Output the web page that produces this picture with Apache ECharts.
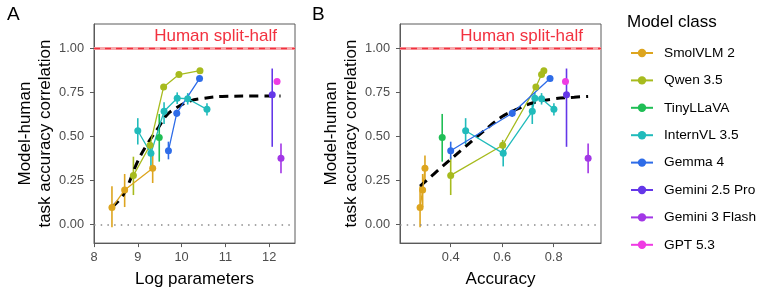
<!DOCTYPE html>
<html>
<head>
<meta charset="utf-8">
<script src="https://cdn.jsdelivr.net/npm/echarts@6/dist/echarts.min.js"></script>
<style>
html,body{margin:0;padding:0;background:#fff;}
#chart{width:762px;height:294px;}
</style>
</head>
<body>
<div id="chart"></div>
<script>
// ---------- data ----------
const classes = ['SmolVLM 2','Qwen 3.5','TinyLLaVA','InternVL 3.5','Gemma 4','Gemini 2.5 Pro','Gemini 3 Flash','GPT 5.3'];
const colors  = ['#DDA51F','#A7BB1E','#1FBE55','#21BBBB','#2E6CE8','#6437E8','#A237E6','#EF3BE3'];

// log parameters per model (panel A x)
const logParams = [
  [8.41, 8.70, 9.34],
  [8.90, 9.28, 9.59, 9.94, 10.42],
  [9.49],
  [9.00, 9.30, 9.60, 9.90, 10.14, 10.58],
  [9.70, 9.89, 10.41],
  [12.07],
  [12.27],
  [12.18]
];
// accuracy per model (panel B x)
const accuracy = [
  [0.281, 0.291, 0.300],
  [0.400, 0.602, 0.731, 0.753, 0.762],
  [0.367],
  [0.458, 0.604, 0.717, 0.727, 0.753, 0.801],
  [0.400, 0.639, 0.786],
  [0.850],
  [0.934],
  [0.846]
];
// model-human task accuracy correlation
const corr = [
  [0.097, 0.196, 0.320],
  [0.279, 0.450, 0.780, 0.850, 0.872],
  [0.493],
  [0.532, 0.404, 0.642, 0.716, 0.713, 0.653],
  [0.419, 0.631, 0.827],
  [0.735],
  [0.376],
  [0.810]
];
const corrLo = [
  [-0.015, 0.100, 0.236],
  [0.168, 0.420, 0.765, 0.838, 0.862],
  [0.357],
  [0.454, 0.330, 0.570, 0.683, 0.680, 0.618],
  [0.370, 0.610, 0.815],
  [0.441],
  [0.292],
  [0.810]
];
const corrHi = [
  [0.218, 0.287, 0.392],
  [0.385, 0.480, 0.795, 0.862, 0.882],
  [0.627],
  [0.603, 0.469, 0.693, 0.749, 0.745, 0.688],
  [0.470, 0.652, 0.840],
  [0.884],
  [0.460],
  [0.810]
];
// fitted curves
const fitAx = [8.41, 8.67, 9.00, 9.20, 9.47, 9.66, 9.87, 10.19, 10.49, 10.92, 11.50, 12.26];
const fitAy = [0.100, 0.170, 0.360, 0.450, 0.550, 0.620, 0.660, 0.700, 0.715, 0.726, 0.728, 0.728];
const fitBx = [0.281, 0.360, 0.440, 0.520, 0.600, 0.660, 0.720, 0.800, 0.880, 0.934];
const fitBy = [0.218, 0.320, 0.420, 0.520, 0.612, 0.655, 0.690, 0.712, 0.722, 0.726];

const yTicks = [0, 0.25, 0.5, 0.75, 1.0];
const xTicksA = [8, 9, 10, 11, 12];
const xTicksB = [0.4, 0.6, 0.8];
const humanSplitHalf = 1.0;
const humanLabel = 'Human split-half';

// ---------- chart ----------
const FONT = 'Liberation Sans, Arial, Helvetica, sans-serif';
const chart = echarts.init(document.getElementById('chart'), null, {renderer:'canvas'});

function yAxisCfg(gi){
  return {
    gridIndex: gi, type:'value', min:-0.104, max:1.136,
    name:'Model-human\ntask accuracy correlation', nameLocation:'middle', nameGap:34,
    nameTextStyle:{fontFamily:FONT, fontSize:17, color:'#000', lineHeight:20},
    axisLine:{show:true, lineStyle:{color:'#5a5a5a', width:1}},
    axisTick:{show:true, length:4, lineStyle:{color:'#5a5a5a'}, customValues:yTicks},
    axisLabel:{fontFamily:FONT, fontSize:12.8, color:'#4d4d4d', margin:10, customValues:yTicks,
      formatter:v=>v.toFixed(2)},
    splitLine:{show:false}
  };
}
function xAxisCfg(gi, min, max, ticks, name, dec){
  return {
    gridIndex: gi, type:'value', min:min, max:max,
    name:name, nameLocation:'middle', nameGap:22,
    nameTextStyle:{fontFamily:FONT, fontSize:17, color:'#000', lineHeight:20, verticalAlign:'top'},
    axisLine:{show:true, onZero:false, lineStyle:{color:'#5a5a5a', width:1}},
    axisTick:{show:true, length:4, lineStyle:{color:'#5a5a5a'}, customValues:ticks},
    axisLabel:{fontFamily:FONT, fontSize:12.8, color:'#4d4d4d', margin:8, customValues:ticks,
      formatter:v=>v.toFixed(dec)},
    splitLine:{show:false}
  };
}

const series = [];
// reference lines per panel
[0,1].forEach(gi=>{
  series.push({
    type:'line', xAxisIndex:gi, yAxisIndex:gi, data:[], silent:true, z:1,
    markLine:{
      silent:true, symbol:'none', animation:false,
      data:[
        {yAxis:humanSplitHalf, lineStyle:{color:'#F7A8AC', width:3, type:'solid'}, label:{show:false}},
        {yAxis:humanSplitHalf, lineStyle:{color:'#F2313F', width:1.4, type:[6,5]},
          label:{show:true, position:'insideEndTop', formatter:humanLabel, color:'#F2313F',
            fontFamily:FONT, fontSize:17, distance:[18,3]}},
        {yAxis:0, lineStyle:{color:'#8a8a8a', width:1.6, type:[1.5,5.2]}, label:{show:false}}
      ]
    }
  });
});

// class lines (legend source) — panel A then panel B
classes.forEach((c,i)=>{
  series.push({
    name:c, type:'line', xAxisIndex:0, yAxisIndex:0, z:4,
    data: logParams[i].map((x,k)=>[x, corr[i][k]]),
    color: colors[i], symbol:'circle', symbolSize:7, showSymbol:true,
    lineStyle:{width:1.3, color:colors[i]}, itemStyle:{color:colors[i]},
    animation:false
  });
});
classes.forEach((c,i)=>{
  series.push({
    name:c, type:'line', xAxisIndex:1, yAxisIndex:1, z:4,
    data: accuracy[i].map((x,k)=>[x, corr[i][k]]),
    color: colors[i], symbol:'circle', symbolSize:7, showSymbol:true,
    lineStyle:{width:1.3, color:colors[i]}, itemStyle:{color:colors[i]},
    animation:false
  });
});
// error bars
function errBars(gi, xs, i){
  return {
    name:classes[i], type:'custom', xAxisIndex:gi, yAxisIndex:gi, z:3,
    data: xs.map((x,k)=>[x, corrLo[i][k], corrHi[i][k]]),
    encode:{x:0, y:[1,2]},
    renderItem:(params, api)=>{
      const p1 = api.coord([api.value(0), api.value(1)]);
      const p2 = api.coord([api.value(0), api.value(2)]);
      return {type:'line', shape:{x1:p1[0], y1:p1[1], x2:p2[0], y2:p2[1]},
        style:{stroke:colors[i], lineWidth:1.6}};
    },
    animation:false
  };
}
classes.forEach((c,i)=>{ series.push(errBars(0, logParams[i], i)); });
classes.forEach((c,i)=>{ series.push(errBars(1, accuracy[i], i)); });
// fitted dashed curves
series.push({type:'line', xAxisIndex:0, yAxisIndex:0, z:3, smooth:0.4, showSymbol:false, silent:true,
  data: fitAx.map((x,k)=>[x, fitAy[k]]), lineStyle:{color:'#000', width:3, type:[9,6]}, animation:false});
series.push({type:'line', xAxisIndex:1, yAxisIndex:1, z:3, smooth:0.4, showSymbol:false, silent:true,
  data: fitBx.map((x,k)=>[x, fitBy[k]]), lineStyle:{color:'#000', width:3, type:[9,6]}, animation:false});

const option = {
  backgroundColor:'#fff',
  animation:false,
  title:[
    {text:'A', left:7, top:5, padding:0, textStyle:{fontFamily:FONT, fontSize:19, fontWeight:'normal', color:'#000'}},
    {text:'B', left:312, top:5, padding:0, textStyle:{fontFamily:FONT, fontSize:19, fontWeight:'normal', color:'#000'}},
    {text:'Model class', left:627, top:14, padding:0, textStyle:{fontFamily:FONT, fontSize:17, fontWeight:'normal', color:'#000'}}
  ],
  legend:{
    data:classes, orient:'vertical', left:630, top:46, padding:0,
    itemWidth:22, itemHeight:10.5, itemGap:13.4,
    lineStyle:{width:2},
    textStyle:{fontFamily:FONT, fontSize:13.7, color:'#000', padding:[0,0,0,6], lineHeight:14},
    selectedMode:false
  },
  grid:[
    {left:94, top:24, width:201, height:222, show:true, borderColor:'#5a5a5a', borderWidth:1, containLabel:false},
    {left:400, top:24, width:201, height:222, show:true, borderColor:'#5a5a5a', borderWidth:1, containLabel:false}
  ],
  xAxis:[
    xAxisCfg(0, 8, 12.59, xTicksA, 'Log parameters', 0),
    xAxisCfg(1, 0.203, 0.984, xTicksB, 'Accuracy', 1)
  ],
  yAxis:[yAxisCfg(0), yAxisCfg(1)],
  series:series
};
chart.setOption(option);
</script>
</body>
</html>
